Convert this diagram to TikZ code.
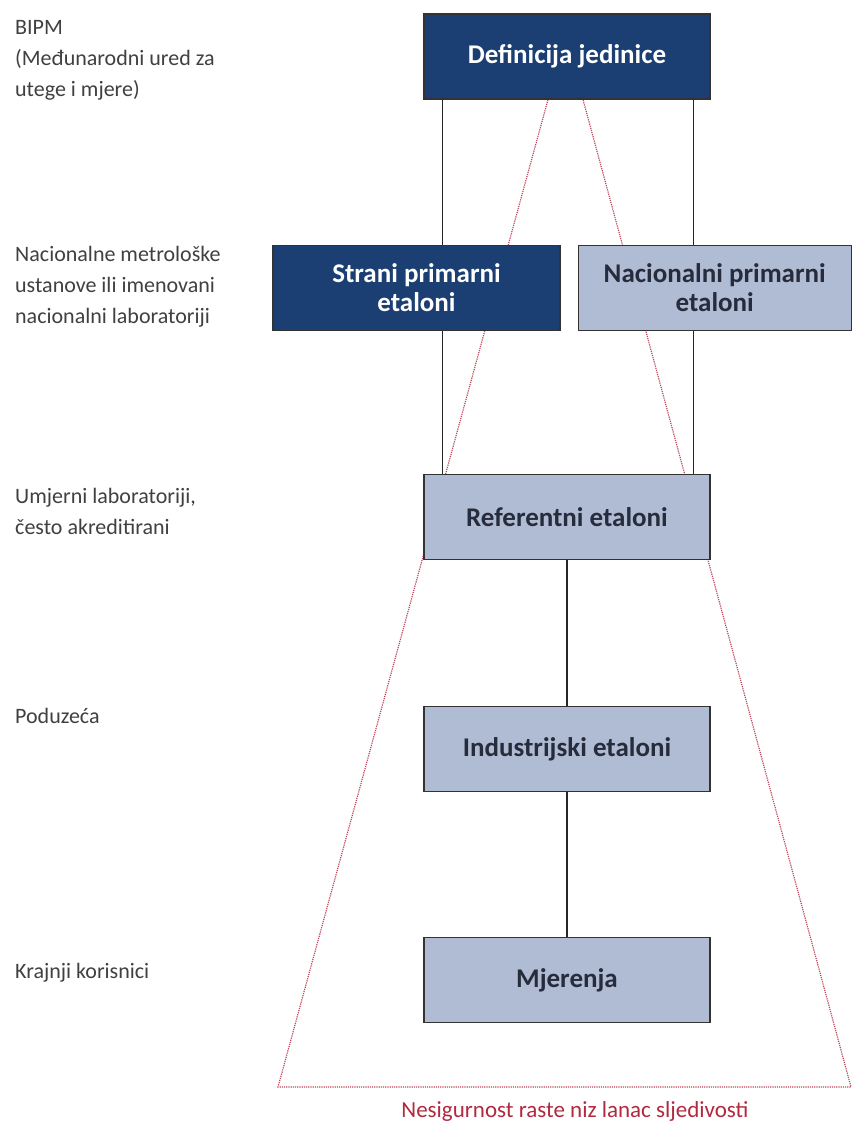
\documentclass[tikz,border=0pt]{standalone}
\usepackage{fontspec}
\setmainfont{Carlito}
\usetikzlibrary
  {
    positioning,              % place nodes relative to other nodes
    backgrounds,              % dotted lines behind the boxes
  }
\definecolor{darkblue}{RGB}{27,63,114}
\definecolor{lightblue}{RGB}{176,187,212}
\definecolor{boxtext}{RGB}{38,44,60}
\definecolor{chainred}{RGB}{178,40,62}

\begin{document}
\begin{tikzpicture}
    [
      x=1pt, y=-1pt,
      level/.style=
        {
          rectangle,
          draw=black!80,
          line width=1.2pt,
          minimum width=286pt,
          minimum height=85pt,
          font=\fontsize{27}{29}\selectfont\bfseries,
          align=center,
        },
      top level/.style=
        {
          level,
          fill=darkblue,
          text=white,
        },
      low level/.style=
        {
          level,
          fill=lightblue,
          text=boxtext,
        },
      side label/.style=
        {
          anchor=west,
          align=left,
          inner sep=0pt,
          text=black!75,
          font=\fontsize{22}{31}\selectfont,
        },
      link/.style={line width=1.5pt, draw=black!85},
      spread/.style={densely dotted, line width=1.2pt, draw=chainred!85},
    ]
    \useasboundingbox (0,0) rectangle (852,1124);

    \node[top level]  (definicija)   at (567,56.5)  {Definicija jedinice};
    \node[top level, minimum width=287pt]
                      (strani)       [below=145pt of definicija, xshift=-150.5pt]
                                                    {Strani primarni\\etaloni};
    \node[low level, minimum width=273pt]
                      (nacionalni)   [right=17pt of strani]
                                                    {Nacionalni primarni\\etaloni};
    \node[low level]  (referentni)   [below=374pt of definicija] {Referentni etaloni};
    \node[low level]  (industrijski) [below=146pt of referentni] {Industrijski etaloni};
    \node[low level]  (mjerenja)     [below=145pt of industrijski] {Mjerenja};

    % levels on the left
    \node[side label] (bipm)       at (15,60)  {BIPM\\(Međunarodni ured za\\utege i mjere)};
    \node[side label] (nacionalne) at (15,287) {Nacionalne metrološke\\ustanove ili imenovani\\nacionalni laboratoriji};
    \node[side label] (umjerni)    at (15,511) {Umjerni laboratoriji,\\često akreditirani};
    \node[side label] (poduzeca)   at (15,716) {Poduzeća};
    \node[side label] (krajnji)    at (15,973) {Krajnji korisnici};

    % chain
    \coordinate (left drop)  at ([xshift=19pt]definicija.south west);
    \coordinate (right drop) at ([xshift=-17pt]definicija.south east);
    \draw[link] (left drop) -- (left drop |- strani.north);
    \draw[link] (right drop) -- (right drop |- nacionalni.north);
    \draw[link] (left drop |- strani.south) -- (left drop |- referentni.north);
    \draw[link] (right drop |- nacionalni.south) -- (right drop |- referentni.north);
    \draw[link] (referentni.south) -- (industrijski.north);
    \draw[link] (industrijski.south) -- (mjerenja.north);

    \node[text=chainred, font=\fontsize{23}{26}\selectfont]
      (nesigurnost) at (575,1111) {Nesigurnost raste niz lanac sljedivosti};

    \begin{pgfonlayer}{background}
      \coordinate (spread left)  at (278,1087);
      \coordinate (spread right) at (851,1087);
      \draw[spread] ([xshift=-19pt]definicija.south) -- (spread left)
        -- (spread right) -- ([xshift=16pt]definicija.south);
    \end{pgfonlayer}
  \end{tikzpicture}
\end{document}
